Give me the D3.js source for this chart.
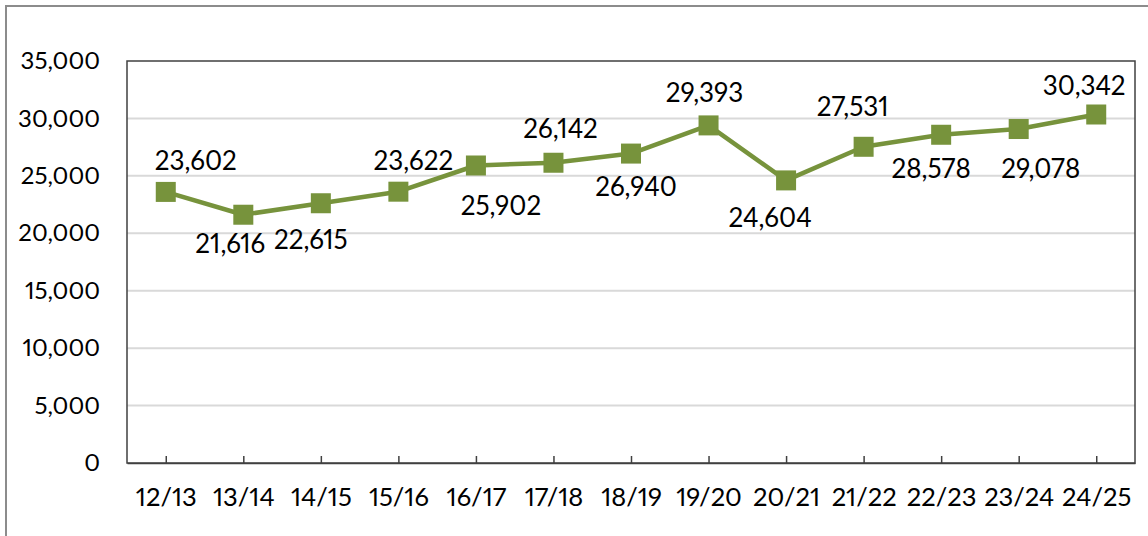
<!DOCTYPE html>
<html>
<head>
<meta charset="utf-8">
<script src="https://cdn.jsdelivr.net/npm/d3@7"></script>
<style>
	body { margin: 0; background: #fff; }
	svg text { font-family: Lato, "Open Sans", sans-serif; fill: #000; font-variant-numeric: proportional-nums; }
</style>
</head>
<body>
<svg id="chart" width="1148" height="536"></svg>
<script>

// Data

var seasons = ["12/13", "13/14", "14/15", "15/16", "16/17", "17/18", "18/19", "19/20", "20/21", "21/22", "22/23", "23/24", "24/25"];
var values = [23602, 21616, 22615, 23622, 25902, 26142, 26940, 29393, 24604, 27531, 28578, 29078, 30342];
var yTicks = [0, 5000, 10000, 15000, 20000, 25000, 30000, 35000];

// label placement (dx, dy from the marker), as laid out in the original
var labelNudge = [[30, -32], [-13, 28], [-10, 36], [15, -32], [25, 40], [7, -35], [5, 32], [-4, -33], [-16, 37], [-11, -41], [-10, 33], [22, 39], [-12, -30]];

var svg = d3.select("#chart");

var margin = {left: 127, top: 61, right: 13, bottom: 73};
var width = 1148 - margin.left - margin.right;
var height = 536 - margin.top - margin.bottom;
var green = "#77933c";
var fmt = d3.format(",");

// outer frame
svg.append("path")
	.attr("d", "M6 536V6H1148")
	.attr("fill", "none")
	.attr("stroke", "#8c8c8c")
	.attr("stroke-width", 2);

var g = svg.append("g").attr("transform", "translate(" + margin.left + "," + margin.top + ")");

var x = d3.scalePoint().domain(seasons).range([0, width]).padding(0.5);
var y = d3.scaleLinear().domain([0, 35000]).range([height, 0]);

// gridlines
g.selectAll("line.grid")
	.data(yTicks.filter(function (d) { return d > 0 && d < 35000; }))
	.enter().append("line")
	.attr("class", "grid")
	.attr("x1", 0).attr("x2", width)
	.attr("y1", function (d) { return y(d); })
	.attr("y2", function (d) { return y(d); })
	.attr("stroke", "#d9d9d9")
	.attr("stroke-width", 2);

// plot frame
g.append("rect")
	.attr("width", width).attr("height", height)
	.attr("fill", "none")
	.attr("stroke", "#404040")
	.attr("stroke-width", 1.5);

// y axis
var yAxis = g.append("g")
	.call(d3.axisLeft(y).tickValues(yTicks).tickFormat(fmt).tickSize(0).tickPadding(27));
yAxis.select(".domain").remove();
yAxis.selectAll("text").style("font-size", "24px");

// x axis
var xAxis = g.append("g")
	.attr("transform", "translate(0," + height + ")")
	.call(d3.axisBottom(x).tickSizeInner(-7).tickSizeOuter(0).tickPadding(25));
xAxis.select(".domain").attr("stroke", "#404040").attr("stroke-width", 1.5);
xAxis.selectAll(".tick line").attr("stroke", "#404040").attr("stroke-width", 1.5);
xAxis.selectAll("text").style("font-size", "25.5px");

// line
var line = d3.line()
	.x(function (d, i) { return x(seasons[i]); })
	.y(function (d) { return y(d); });

g.append("path")
	.datum(values)
	.attr("d", line)
	.attr("fill", "none")
	.attr("stroke", green)
	.attr("stroke-width", 4.5)
	.attr("stroke-linejoin", "round");

// markers
g.selectAll("rect.marker")
	.data(values)
	.enter().append("rect")
	.attr("class", "marker")
	.attr("x", function (d, i) { return x(seasons[i]) - 10; })
	.attr("y", function (d) { return y(d) - 10; })
	.attr("width", 20).attr("height", 20)
	.attr("fill", green);

// labels
g.selectAll("text.label")
	.data(values)
	.enter().append("text")
	.attr("class", "label")
	.attr("x", function (d, i) { return x(seasons[i]) + labelNudge[i][0]; })
	.attr("y", function (d, i) { return y(d) + labelNudge[i][1]; })
	.attr("text-anchor", "middle")
	.attr("dominant-baseline", "central")
	.style("font-size", "26px")
	.text(function (d) { return fmt(d); });

</script>
</body>
</html>
